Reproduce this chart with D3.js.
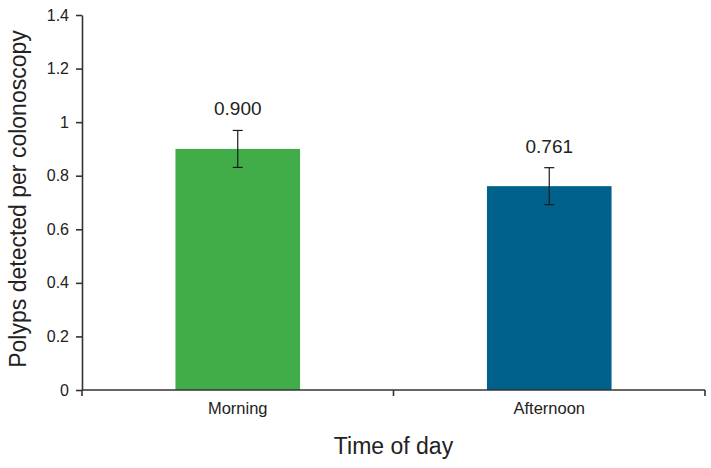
<!DOCTYPE html>
<html>
<head>
<meta charset="utf-8">
<script src="https://cdn.jsdelivr.net/npm/d3@7"></script>
<style>
  body { margin: 0; background: #fff; }
  text { font-family: "Liberation Sans", Arial, sans-serif; fill: #222; }
</style>
</head>
<body>
<div id="chart"></div>
<script>
// data
var categories = ["Morning", "Afternoon"];
var values = [0.900, 0.761];
var errors = [0.069, 0.069];
var labels = ["0.900", "0.761"];
var colors = ["#41ad49", "#00628a"];
var yTicks = [0, 0.2, 0.4, 0.6, 0.8, 1, 1.2, 1.4];

var margin = { top: 15, right: 6, bottom: 78, left: 82 },
    width = 711 - margin.left - margin.right,
    height = 468 - margin.top - margin.bottom;

var svg = d3.select("#chart")
    .append("svg")
    .attr("width", width + margin.left + margin.right)
    .attr("height", height + margin.top + margin.bottom)
    .append("g")
    .attr("transform", "translate(" + margin.left + "," + margin.top + ")");

var x = d3.scaleBand()
    .range([0, width])
    .domain(categories)
    .paddingInner(0.6)
    .paddingOuter(0.3);

var y = d3.scaleLinear().domain([0, 1.4]).range([height, 0]);

// bars
svg.selectAll("rect.bar")
    .data(values)
    .enter()
    .append("rect")
    .attr("class", "bar")
    .attr("x", function (d, i) { return x(categories[i]); })
    .attr("y", function (d) { return y(d); })
    .attr("width", x.bandwidth())
    .attr("height", function (d) { return height - y(d); })
    .attr("fill", function (d, i) { return colors[i]; });

// x axis with tick marks at band boundaries
var xAxisG = svg.append("g").attr("transform", "translate(0," + height + ")");
xAxisG.append("line")
    .attr("x1", 0).attr("x2", width)
    .attr("y1", 0).attr("y2", 0)
    .attr("stroke", "#333").attr("stroke-width", 1.6);
xAxisG.selectAll("line.tk")
    .data([0, width / 2, width])
    .enter()
    .append("line")
    .attr("class", "tk")
    .attr("x1", function (d) { return d; }).attr("x2", function (d) { return d; })
    .attr("y1", 0).attr("y2", 6)
    .attr("stroke", "#333").attr("stroke-width", 1.6);
xAxisG.selectAll("text")
    .data(categories)
    .enter()
    .append("text")
    .attr("x", function (d) { return x(d) + x.bandwidth() / 2; })
    .attr("y", 24)
    .attr("text-anchor", "middle")
    .style("font-size", "16.5px")
    .text(function (d) { return d; });

// y axis
var yAxis = svg.append("g")
    .call(d3.axisLeft(y).tickValues(yTicks).tickSize(6).tickSizeOuter(0)
        .tickFormat(function (d) { return d3.format("~g")(d); }));
yAxis.selectAll("text").style("font-size", "16px").attr("x", -13);
yAxis.selectAll(".domain, .tick line").attr("stroke", "#333").attr("stroke-width", 1.6);

// error bars
var cx = function (d, i) { return x(categories[i]) + x.bandwidth() / 2; };
var eb = svg.selectAll("g.err")
    .data(values)
    .enter()
    .append("g")
    .attr("class", "err")
    .attr("stroke", "#1a1a1a")
    .attr("stroke-width", 1.2);
eb.append("line")
    .attr("x1", cx).attr("x2", cx)
    .attr("y1", function (d, i) { return y(d + errors[i]); })
    .attr("y2", function (d, i) { return y(d - errors[i]); });
[1, -1].forEach(function (s) {
    eb.append("line")
        .attr("x1", function (d, i) { return cx(d, i) - 5; })
        .attr("x2", function (d, i) { return cx(d, i) + 5; })
        .attr("y1", function (d, i) { return y(d + s * errors[i]); })
        .attr("y2", function (d, i) { return y(d + s * errors[i]); });
});

// value labels
svg.selectAll("text.val")
    .data(values)
    .enter()
    .append("text")
    .attr("class", "val")
    .attr("x", cx)
    .attr("y", function (d, i) { return y(d + errors[i]) - 15; })
    .attr("text-anchor", "middle")
    .style("font-size", "19px")
    .text(function (d, i) { return labels[i]; });

// axis titles
svg.append("text")
    .attr("transform", "rotate(-90)")
    .attr("x", -184)
    .attr("y", -56)
    .attr("text-anchor", "middle")
    .style("font-size", "23px")
    .text("Polyps detected per colonoscopy");

svg.append("text")
    .attr("x", width / 2)
    .attr("y", height + 64)
    .attr("text-anchor", "middle")
    .style("font-size", "23px")
    .text("Time of day");
</script>
</body>
</html>
